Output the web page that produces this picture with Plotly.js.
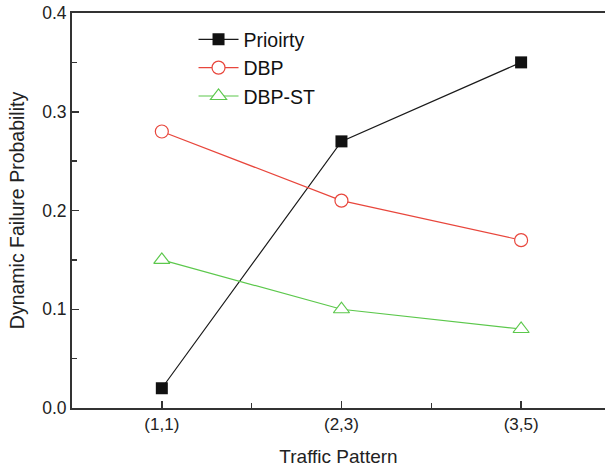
<!DOCTYPE html>
<html>
<head>
<meta charset="utf-8">
<script src="https://cdn.plot.ly/plotly-3.0.1.min.js"></script>
<style>html,body{margin:0;padding:0;background:#fff;}#chart{width:605px;height:468px;}</style>
</head>
<body>
<div id="chart"></div>
<script>
const categories = ["(1,1)", "(2,3)", "(3,5)"];
const positions = [1, 2, 3];
const priorityValues = [0.02, 0.27, 0.35];
const dbpValues = [0.28, 0.21, 0.17];
const dbpStValues = [0.15, 0.10, 0.08];
const seriesNames = ["Prioirty", "DBP", "DBP-ST"];

const traces = [
  {
    x: positions, y: priorityValues, name: seriesNames[0], type: "scatter", mode: "lines+markers",
    line: {color: "#1a1a1a", width: 1.2},
    marker: {symbol: "square", size: 12, color: "#111111", line: {width: 0}}
  },
  {
    x: positions, y: dbpValues, name: seriesNames[1], type: "scatter", mode: "lines+markers",
    line: {color: "#e8463c", width: 1.2},
    marker: {symbol: "circle", size: 13, color: "#ffffff", line: {color: "#e8463c", width: 1.2}}
  },
  {
    x: positions, y: dbpStValues, name: seriesNames[2], type: "scatter", mode: "lines+markers",
    line: {color: "#5cc84c", width: 1.2},
    marker: {symbol: "triangle-up", size: 14, color: "#ffffff", line: {color: "#5cc84c", width: 1.2}}
  }
];

const layout = {
  width: 605, height: 468,
  margin: {l: 72, r: 0, t: 13, b: 60},
  paper_bgcolor: "#ffffff", plot_bgcolor: "#ffffff",
  font: {family: "Liberation Sans, Arial, sans-serif", color: "#222222", size: 17},
  showlegend: true,
  legend: {
    x: 0.228, y: 0.982, xanchor: "left", yanchor: "top",
    bgcolor: "rgba(0,0,0,0)", borderwidth: 0, itemwidth: 40,
    font: {size: 19.5, color: "#111111"}, tracegroupgap: 0
  },
  xaxis: {
    range: [0.5, 3.467],
    tickmode: "array", tickvals: positions, ticktext: categories,
    ticks: "inside", ticklen: 7, tickwidth: 1.5, tickcolor: "#333333",
    minor: {tickmode: "array", tickvals: [1.5, 2.5], ticks: "inside", ticklen: 5, tickwidth: 1.5, tickcolor: "#333333"},
    showline: true, linecolor: "#333333", linewidth: 2, mirror: true,
    showgrid: false, zeroline: false,
    tickfont: {size: 17, color: "#222222"},
    title: {text: "Traffic Pattern", font: {size: 19, color: "#222222"}, standoff: 16}
  },
  yaxis: {
    range: [0, 0.4],
    tickmode: "linear", tick0: 0, dtick: 0.1, tickformat: ".1f",
    ticks: "inside", ticklen: 7, tickwidth: 1.5, tickcolor: "#333333",
    minor: {dtick: 0.05, ticks: "inside", ticklen: 5, tickwidth: 1.5, tickcolor: "#333333"},
    showline: true, linecolor: "#333333", linewidth: 2, mirror: false,
    showgrid: false, zeroline: false,
    tickfont: {size: 17.5, color: "#222222"},
    title: {text: "Dynamic Failure Probability", font: {size: 19.5, color: "#222222"}, standoff: 12}
  }
};

Plotly.newPlot("chart", traces, layout, {displayModeBar: false, staticPlot: true});
</script>
</body>
</html>
